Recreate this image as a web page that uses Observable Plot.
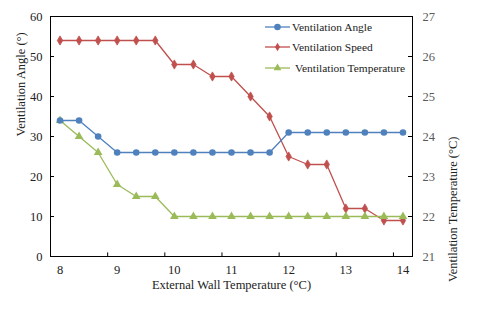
<!DOCTYPE html>
<html>
<head>
<meta charset="utf-8">
<script src="https://cdn.jsdelivr.net/npm/d3@7"></script>
<script src="https://cdn.jsdelivr.net/npm/@observablehq/plot@0.6"></script>
<style>
  html, body { margin: 0; padding: 0; background: #fff; }
  #wrap { position: relative; width: 480px; height: 311px; font-family: "Liberation Serif", "DejaVu Serif", serif; }
  #legend { position: absolute; left: 265px; top: 18px; font-size: 11.4px; color: #222; }
  .row { position: absolute; left: 0; white-space: nowrap; height: 18px; display: flex; align-items: center; }
  .row svg { display: block; }
</style>
</head>
<body>
<div id="wrap"></div>
<script>
// Data
const wallTemp = [8, 8 + 1/3, 8 + 2/3, 9, 9 + 1/3, 9 + 2/3, 10, 10 + 1/3, 10 + 2/3, 11, 11 + 1/3, 11 + 2/3, 12, 12 + 1/3, 12 + 2/3, 13, 13 + 1/3, 13 + 2/3, 14];
const ventAngle = [34, 34, 30, 26, 26, 26, 26, 26, 26, 26, 26, 26, 31, 31, 31, 31, 31, 31, 31];
const ventSpeed = [54, 54, 54, 54, 54, 54, 48, 48, 45, 45, 40, 35, 25, 23, 23, 12, 12, 9, 9];
const ventTemp = [24.4, 24.0, 23.6, 22.8, 22.5, 22.5, 22.0, 22.0, 22.0, 22.0, 22.0, 22.0, 22.0, 22.0, 22.0, 22.0, 22.0, 22.0, 22.0];
const xTickLabels = [8, 9, 10, 11, 12, 13, 14];
const xTickMarks = [8 + 5/6, 9 + 5/6, 10 + 5/6, 11 + 5/6, 12 + 5/6, 13 + 5/6];
const leftTicks = [0, 10, 20, 30, 40, 50, 60];
const rightTicks = [21, 22, 23, 24, 25, 26, 27];
const seriesNames = ["Ventilation Angle", "Ventilation Speed", "Ventilation Temperature"];
const colors = ["#4F81BD", "#C0504D", "#9BBB59"];

const xDomain = [8 - 1/6, 14 + 1/6];
const toLeft = t => (t - 21) * 10; // right axis (21..27) onto left scale (0..60)

const angleData = wallTemp.map((x, i) => ({x, y: ventAngle[i]}));
const speedData = wallTemp.map((x, i) => ({x, y: ventSpeed[i]}));
const tempData = wallTemp.map((x, i) => ({x, y: toLeft(ventTemp[i])}));

const chart = Plot.plot({
  width: 480,
  height: 311,
  marginLeft: 50,
  marginRight: 68,
  marginTop: 16,
  marginBottom: 55,
  style: {fontFamily: "'Liberation Serif', serif", fontSize: "12.5px", color: "#222", background: "#fff"},
  x: {domain: xDomain},
  y: {domain: [0, 60]},
  marks: [
    Plot.frame({stroke: "#000", strokeWidth: 1}),
    // X axis labels (no tick lines)
    Plot.axisX({ticks: xTickLabels, tickSize: 0, tickPadding: 9, tickFormat: d => String(d), label: null, fontSize: 12.5, fill: "#222"}),
    // X tick marks (inside, between categories)
    Plot.ruleX(xTickMarks, {x: d => d, y1: 0, y2: 0.9, stroke: "#000"}),
    // Left axis
    Plot.axisY({anchor: "left", ticks: leftTicks, tickSize: 0, tickPadding: 8, label: null, fontSize: 12.5, fill: "#222"}),
    Plot.ruleY(leftTicks, {y: d => d, x1: xDomain[0], x2: xDomain[0] + 0.07, stroke: "#000"}),
    // Right axis (temperature)
    Plot.axisY({anchor: "right", ticks: rightTicks.map(toLeft), tickSize: 0, tickPadding: 10, tickFormat: d => String(Math.round(21 + d / 10)), label: null, fontSize: 12.5, fill: "#595959"}),
    Plot.ruleY(rightTicks.map(toLeft), {y: d => d, x1: xDomain[1] - 0.07, x2: xDomain[1], stroke: "#000"}),
    // Series
    Plot.line(speedData, {x: "x", y: "y", stroke: colors[1], strokeWidth: 1.3}),
    Plot.dot(speedData, {x: "x", y: "y", symbol: "diamond", r: 2.8, fill: colors[1], stroke: colors[1], strokeWidth: 0.8}),
    Plot.line(tempData, {x: "x", y: "y", stroke: colors[2], strokeWidth: 1.3}),
    Plot.dot(tempData, {x: "x", y: "y", symbol: "triangle", r: 3.2, fill: colors[2]}),
    Plot.line(angleData, {x: "x", y: "y", stroke: colors[0], strokeWidth: 1.3}),
    Plot.dot(angleData, {x: "x", y: "y", symbol: "circle", r: 3.3, fill: colors[0]}),
    // Axis titles
    Plot.text(["External Wall Temperature (°C)"], {frameAnchor: "bottom", dy: 32, fontSize: 12.5, fill: "#222", text: d => d}),
    Plot.text(["Ventilation Angle (°)"], {frameAnchor: "left", dx: -30, rotate: -90, fontSize: 12.5, fill: "#222", text: d => d}),
    Plot.text(["Ventilation Temperature (°C)"], {frameAnchor: "right", dx: 40, rotate: -90, fontSize: 12.5, fill: "#222", text: d => d})
  ]
});

const wrap = document.getElementById("wrap");
wrap.appendChild(chart);

// Legend (HTML overlay)
const legend = document.createElement("div");
legend.id = "legend";
const symbols = [d3.symbolCircle, d3.symbolDiamond, d3.symbolTriangle];
const symSizes = [34, 22, 26];
const rowTops = [0, 20, 41];
seriesNames.forEach((name, i) => {
  const row = document.createElement("div");
  row.className = "row";
  row.style.top = rowTops[i] + "px";
  const svg = d3.create("svg").attr("width", i === 2 ? 30 : 27).attr("height", 18);
  svg.append("line").attr("x1", 0).attr("x2", 25).attr("y1", 9).attr("y2", 9).attr("stroke", colors[i]).attr("stroke-width", 1.3);
  svg.append("path").attr("d", d3.symbol(symbols[i], symSizes[i])()).attr("transform", "translate(12.5,9)").attr("fill", colors[i]);
  row.appendChild(svg.node());
  const span = document.createElement("span");
  span.textContent = name;
  row.appendChild(span);
  legend.appendChild(row);
});
wrap.appendChild(legend);
</script>
</body>
</html>
